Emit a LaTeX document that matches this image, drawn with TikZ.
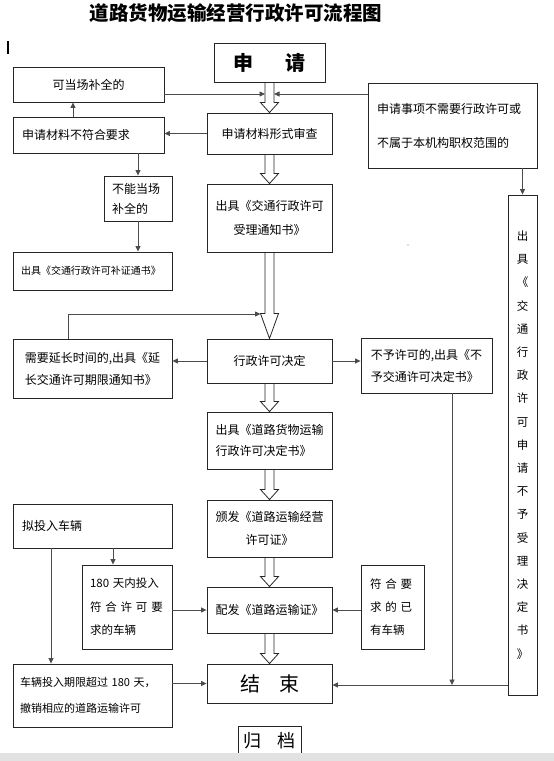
\documentclass[tikz,border=0pt]{standalone}
\usepackage{fontspec}
\setmainfont{Noto Sans CJK SC}
\usetikzlibrary{arrows.meta,calc}
\definecolor{bandgray}{RGB}{226,226,226}

\tikzset{every picture/.append style={x=1pt, y=-1pt}}
\tikzset{
    box/.style 2 args={draw=black!85, line width=0.9pt, inner sep=0pt,
        minimum width=#1pt, minimum height=#2pt, align=center,
        font=\fontsize{12}{22}\selectfont},
    sep/.style={font=\fontsize{12}{#1}\selectfont},
    conn/.style={draw=black!70, line width=0.8pt,
        -{Triangle[length=5.5pt, width=5pt]}},
    hollow/.style={draw=black!85, line width=0.8pt}
}
% open double-line arrow from one box down to the next
\newcommand{\hollowdown}[3]{%
  \draw[hollow] let \p1=(#1.south), \p2=(#2.north) in
    (\x1-4.5pt,\y1) -- (\x1-4.5pt,\y2+#3pt) -- (\x1-9pt,\y2+#3pt)
    -- (\x1,\y2) -- (\x1+9pt,\y2+#3pt) -- (\x1+4.5pt,\y2+#3pt)
    -- (\x1+4.5pt,\y1);}

\begin{document}
\begin{tikzpicture}
  \useasboundingbox (0,0) rectangle (554,761);

  \node[font=\fontsize{19.5}{20}\selectfont\bfseries] (title) at (236,13) {道路货物运输经营行政许可流程图};
  \draw[line width=1.5pt] (8,41) -- (8,54);

  \node[box={111}{39}, font=\fontsize{20}{20}\selectfont\bfseries] (apply) at (269.5,62.5) {申\hspace{32pt}请};
  \node[box={151}{35}] (onsite) at (88.5,84.5) {可当场补全的};
  \node[box={151}{36}, text width=133pt, align=left] (notfit) at (88.5,135) {申请材料不符合要求};
  \node[box={125}{41}] (check) at (269.5,133.5) {申请材料形式审查};
  \node[box={169}{85}, text width=151pt, align=left, sep=34] (outscope) at (452.5,125.5) {申请事项不需要行政许可或\\不属于本机构职权范围的};
  \node[box={68}{45}, text width=52pt, align=left, sep=20] (notnow) at (138,198.5) {不能当场\\补全的};
  \node[box={159}{38}, text width=143pt, align=left, font=\fontsize{10}{12}\selectfont] (supply) at (92.5,271) {出具《交通行政许可补证通书》};
  \node[box={125}{68}, sep=24] (accept) at (269.5,218) {出具《交通行政许可\\受理通知书》};
  \node[box={29}{500}, font=\fontsize{11.5}{23.2}\selectfont] (refuse) at (522.5,445) {出\\具\\《\\交\\通\\行\\政\\许\\可\\申\\请\\不\\予\\受\\理\\决\\定\\书\\》};
  \fill[black!60] (408,245) circle (0.6pt);

  \node[box={125}{44}] (decide) at (269.5,361) {行政许可决定};
  \node[box={159}{59}, align=left, sep=22] (extend) at (92.5,368.5) {需要延长时间的,出具《延\\长交通许可期限通知书》};
  \node[box={131}{55}, align=left, sep=22] (deny) at (426.5,365.5) {不予许可的,出具《不\\予交通许可决定书》};
  \node[box={125}{57}, align=left, sep=21] (permit) at (269.5,440.5) {出具《道路货物运输\\行政许可决定书》};
  \node[box={125}{57}, sep=23] (issue) at (269.5,528.5) {颁发《道路运输经营\\许可证》};

  \node[box={159}{44}, text width=141pt, align=left] (vehicle) at (92.5,526) {拟投入车辆};
  \node[box={90}{84}, text width=74pt, align=left, font=\fontsize{11.5}{23.5}\selectfont] (within) at (127,607) {180 天内投入\\符 合 许 可 要\\求的车辆};
  \node[box={63}{84}, text width=45pt, align=left, font=\fontsize{11.5}{23}\selectfont] (owned) at (392.5,607) {符 合 要\\求 的 已\\有车辆};
  \node[box={125}{46}] (deliver) at (269.5,610) {配发《道路运输证》};
  \node[box={125}{39}, font=\fontsize{20}{20}\selectfont] (finish) at (269.5,683.5) {结\hspace{19pt}束};
  \node[box={159}{63}, text width=145pt, align=left, font=\fontsize{11}{26}\selectfont] (overdue) at (92.5,695.5) {\mbox{车辆投入期限超过 180 天，}\\撤销相应的道路运输许可};
  \node[box={63}{30}, font=\fontsize{18}{18}\selectfont] (archive) at (269.5,741) {归\hspace{16pt}档};

  \coordinate (inL) at (265,94);
  \coordinate (inR) at (274,94);
  \coordinate (loopin) at (260.5,314);
  \coordinate (join) at (452,685);

  \hollowdown{apply}{check}{10}
  \hollowdown{check}{accept}{10}
  \hollowdown{accept}{decide}{25}
  \hollowdown{decide}{permit}{10}
  \hollowdown{permit}{issue}{10}
  \hollowdown{issue}{deliver}{10}
  \hollowdown{deliver}{finish}{10}

  \draw[conn] (onsite.east |- inL) -- (inL);
  \draw[conn] (outscope.west |- inR) -- (inR);
  \draw[conn] (check.west) -- (check.west -| notfit.east);
  \draw[conn] ([xshift=-15.5pt]notfit.north) -- ([xshift=-15.5pt]onsite.south);
  \draw[conn] (notnow.north |- notfit.south) -- (notnow.north);
  \draw[conn] (notnow.south) -- (notnow.south |- supply.north);
  \draw[conn] (refuse.north |- outscope.south) -- (refuse.north);
  \draw[conn] ([xshift=-24.5pt]extend.north) |- (loopin);
  \draw[conn] (decide.west) -- (decide.west -| extend.east);
  \draw[conn] (decide.east) -- (decide.east -| deny.west);
  \draw[conn] (deny.south -| join) -- (join);
  \draw[conn] (refuse.west |- join) -- (finish.east |- join);
  \draw[conn] ([xshift=-41.5pt]vehicle.south) -- ([xshift=-41.5pt]overdue.north);
  \draw[conn] ([xshift=-14pt, yshift=17pt]within.north) -- ([xshift=-14pt]within.north);
  \draw[conn] (within.east |- deliver.west) -- (deliver.west);
  \draw[conn] (owned.west |- deliver.east) -- (deliver.east);
  \draw[conn] (overdue.east |- finish.west) -- (finish.west);

  \fill[bandgray] (0,753) rectangle (554,761);
\end{tikzpicture}
\end{document}
